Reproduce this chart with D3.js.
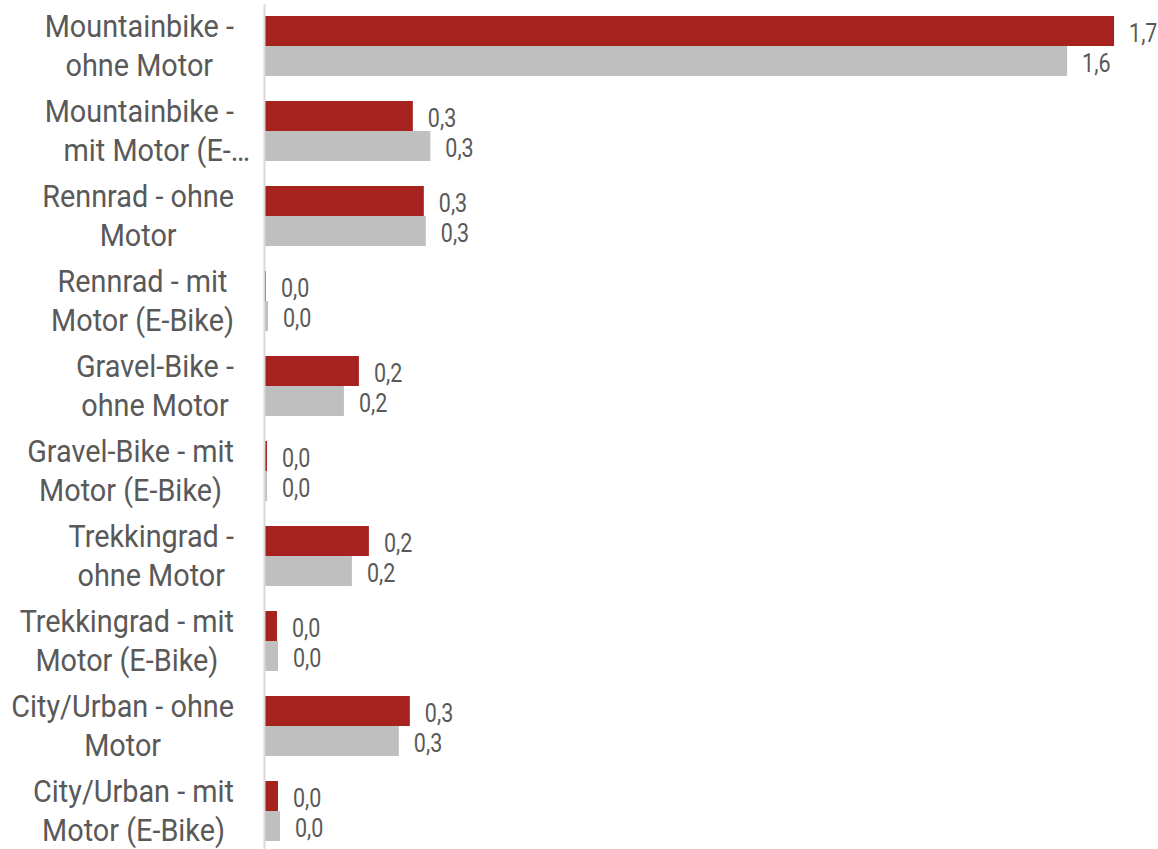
<!DOCTYPE html>
<html>
<head>
<meta charset="utf-8">
<script src="https://cdn.jsdelivr.net/npm/d3@7"></script>
<style>
  body { margin: 0; background: #ffffff; }
  text { font-family: Roboto, "Liberation Sans", sans-serif; fill: #595959; }
</style>
</head>
<body>
<div id="my_dataviz"></div>
<script>
// Categories (one per row) and the label lines shown on the left
var categories = ["MTB ohne", "MTB mit", "Rennrad ohne", "Rennrad mit", "Gravel ohne",
  "Gravel mit", "Trekking ohne", "Trekking mit", "City ohne", "City mit"]
var tickLabels = [
  ["Mountainbike -", "ohne Motor"],
  ["Mountainbike -", "mit Motor (E-…"],
  ["Rennrad - ohne", "Motor"],
  ["Rennrad - mit", "Motor (E-Bike)"],
  ["Gravel-Bike -", "ohne Motor"],
  ["Gravel-Bike - mit", "Motor (E-Bike)"],
  ["Trekkingrad -", "ohne Motor"],
  ["Trekkingrad - mit", "Motor (E-Bike)"],
  ["City/Urban - ohne", "Motor"],
  ["City/Urban - mit", "Motor (E-Bike)"]
]

// Two series (red on top, grey below)
var seriesNames = ["serie1", "serie2"]
var serie1 = [1.70, 0.296, 0.318, 0.002, 0.188, 0.004, 0.208, 0.024, 0.290, 0.026]
var serie2 = [1.606, 0.331, 0.322, 0.006, 0.158, 0.004, 0.174, 0.026, 0.268, 0.030]
var seriesColors = ["#A5221E", "#BFBFBF"]

var width = 1158,
  height = 849;

var svg = d3.select("#my_dataviz")
  .append("svg")
  .attr("width", width)
  .attr("height", height)

// Table built from the arrays
var data = categories.map(function(c, i) {
  return { cat: c, lines: tickLabels[i], values: [serie1[i], serie2[i]] }
})

// X scale
var x = d3.scaleLinear()
  .domain([0, 1.8])
  .range([265, 1164])

// Y scale (rows)
var y = d3.scaleBand()
  .domain(categories)
  .range([3.5, 853.5])
  .paddingInner(25 / 85)
  .paddingOuter(12.5 / 85)

// Y scale inside a row
var ySub = d3.scaleBand()
  .domain(seriesNames)
  .range([0, y.bandwidth()])

var fmt = d3.format(".1f")

// narrow the glyphs a bit (condensed look)
var valScale = 0.86,
  catScale = 0.93;

// Bars
var rows = svg.selectAll(".row")
  .data(data)
  .enter()
  .append("g")
  .attr("class", "row")
  .attr("transform", function(d) { return "translate(0," + y(d.cat) + ")" })

rows.selectAll("rect")
  .data(function(d) {
    return d.values.map(function(v, k) { return { key: seriesNames[k], value: v, k: k } })
  })
  .enter()
  .append("rect")
  .attr("x", x(0))
  .attr("y", function(d) { return ySub(d.key) })
  .attr("width", function(d) { return Math.max(1, x(d.value) - x(0)) })
  .attr("height", ySub.bandwidth())
  .style("fill", function(d) { return seriesColors[d.k] })

// Value labels
rows.selectAll(".val")
  .data(function(d) {
    return d.values.map(function(v, k) { return { key: seriesNames[k], value: v } })
  })
  .enter()
  .append("text")
  .attr("class", "val")
  .attr("transform", function(d) {
    return "translate(" + (x(d.value) + 15) + "," + (ySub(d.key) + ySub.bandwidth() / 2 + 11) + ") scale(" + valScale + ",1)"
  })
  .style("font-size", "25px")
  .text(function(d) { return fmt(d.value).replace(".", ",") })

// Y axis (line only, labels are built below)
var yAxis = svg.append("g")
  .attr("transform", "translate(264,0)")
  .call(d3.axisLeft(y).tickSize(0).tickSizeOuter(0).tickFormat(""))

yAxis.select(".domain")
  .attr("stroke", "#D9D9D9")
  .attr("stroke-width", 2)

// Multi-line category labels, centred inside a block whose right edge is fixed
var labelRight = 234,
  lineGap = 39;

var labels = svg.selectAll(".catlabel")
  .data(data)
  .enter()
  .append("text")
  .attr("class", "catlabel")
  .attr("transform", "translate(" + labelRight + ",0) scale(" + catScale + ",1)")
  .style("font-size", "31px")
  .attr("text-anchor", "middle")

labels.each(function(d) {
  var t = d3.select(this)
  var cy = y(d.cat) + y.bandwidth() / 2
  var n = d.lines.length
  var spans = d.lines.map(function(line, i) {
    return t.append("tspan")
      .attr("y", cy + (i - (n - 1) / 2) * lineGap + 11)
      .text(line)
  })
  var maxW = d3.max(spans, function(s, i) {
    return d.lines[i].slice(-1) === "…" ? 0 : s.node().getComputedTextLength()
  })
  spans.forEach(function(s, i) {
    if (d.lines[i].slice(-1) === "…") {
      s.attr("text-anchor", "end").attr("x", 16 / catScale)
    } else {
      s.attr("x", -maxW / 2)
    }
  })
})
</script>
</body>
</html>
